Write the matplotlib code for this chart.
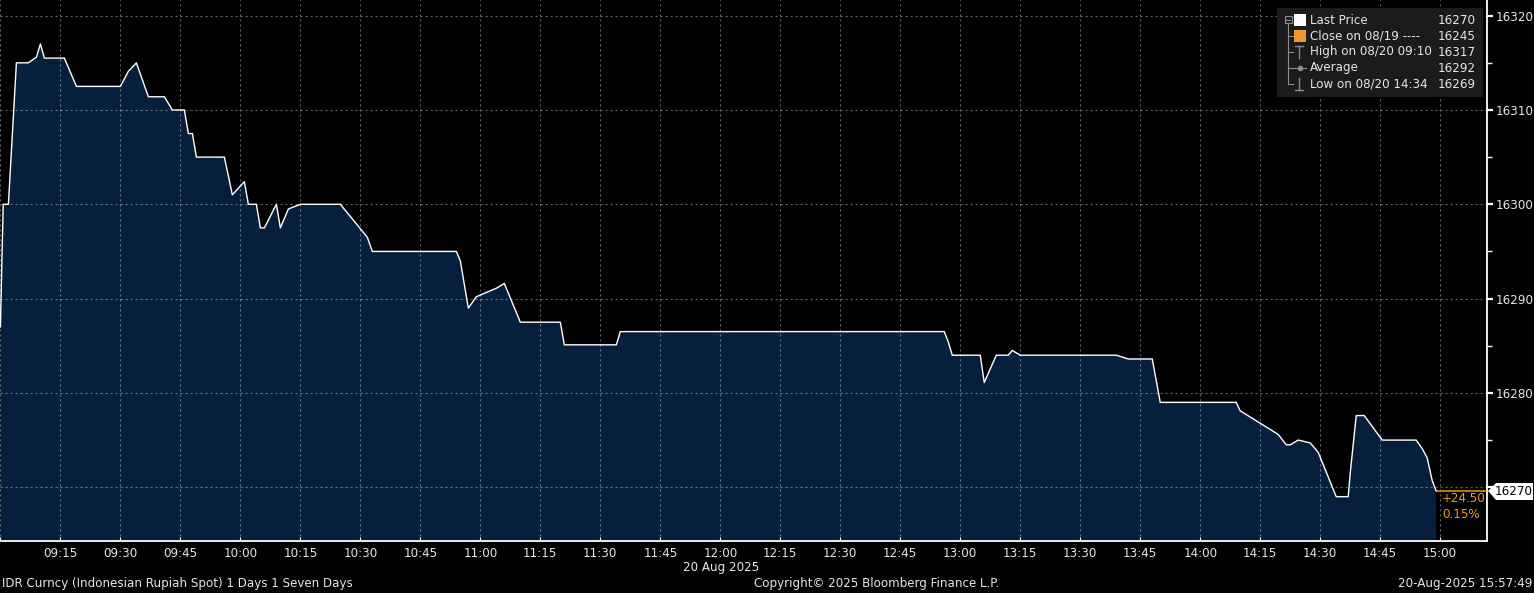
import numpy as np
import matplotlib.pyplot as plt
from matplotlib.patches import Rectangle, Polygon
from matplotlib.lines import Line2D

# =====================================
# Data: IDR spot, 20 Aug 2025 (minutes after 09:00)
# =====================================
minutes = [0, 0.7, 2, 4, 7, 9, 10, 11, 16, 19, 30, 32, 34, 37, 41, 43, 46, 47, 48,
           49, 56, 58, 61, 62, 64, 65, 66, 69, 70, 72, 75, 85, 91.75, 93, 114, 115,
           117, 119, 124, 126, 130, 140, 141, 154, 155, 236, 237, 238, 245, 246, 249,
           252, 253, 255, 279, 282, 288, 290, 309, 310, 319.5, 321.5, 322.5, 324.5,
           327.5, 329.5, 334, 337, 337.5, 339, 341, 345.5, 354, 355.5, 356.75, 358, 359]
prices = [16287, 16300, 16300, 16315, 16315, 16315.6, 16317, 16315.5, 16315.5, 16312.5,
          16312.5, 16314.1, 16315, 16311.4, 16311.4, 16310, 16310, 16307.5, 16307.5,
          16305, 16305, 16301, 16302.4, 16300, 16300, 16297.5, 16297.5, 16300, 16297.5,
          16299.5, 16300, 16300, 16296.5, 16295, 16295, 16294, 16289, 16290.2, 16291.1,
          16291.6, 16287.5, 16287.5, 16285.1, 16285.1, 16286.5, 16286.5, 16285.4, 16284,
          16284, 16281.1, 16284, 16284, 16284.5, 16284, 16284, 16283.6, 16283.6, 16279,
          16279, 16278.1, 16275.6, 16274.5, 16274.5, 16275, 16274.7, 16273.7, 16269,
          16269, 16271.5, 16277.6, 16277.6, 16275, 16275, 16274.1, 16273.1, 16270.7,
          16269.6]

tick_minutes = [0, 15, 30, 45, 60, 75, 90, 105, 120, 135, 150, 165, 180, 195, 210, 225,
                240, 255, 270, 285, 300, 315, 330, 345, 360]
tick_labels = ['', '09:15', '09:30', '09:45', '10:00', '10:15', '10:30', '10:45', '11:00',
               '11:15', '11:30', '11:45', '12:00', '12:15', '12:30', '12:45', '13:00',
               '13:15', '13:30', '13:45', '14:00', '14:15', '14:30', '14:45', '15:00']
y_ticks = [16270, 16280, 16290, 16300, 16310, 16320]
y_labels = ['', '16280', '16290', '16300', '16310', '16320']  # 16270 sits under the tag

legend_labels = ['Last Price', 'Close on 08/19 ----', 'High on 08/20 09:10', 'Average',
                 'Low on 08/20 14:34']
legend_values = ['16270', '16245', '16317', '16292', '16269']

last_price = '16270'
net_change = '+24.50'
pct_change = '0.15%'
date_label = '20 Aug 2025'
footer_left = 'IDR Curncy (Indonesian Rupiah Spot) 1 Days 1 Seven Days'
footer_mid = 'Copyright\u00a9 2025 Bloomberg Finance L.P.'
footer_right = '20-Aug-2025 15:57:49'

# =====================================
# Styling
# =====================================
W, H = 1534, 593
FILL = '#061f3d'
ORANGE = '#f0962a'
TXT = '#e6e6e6'
FS = 8.6
plt.rcParams['font.family'] = 'DejaVu Sans'


def fx(x):
    return x / W


def fy(y):
    return 1 - y / H


fig = plt.figure(figsize=(W / 100, H / 100), dpi=100, facecolor='black')
ax = fig.add_axes([0, fy(541), fx(1487), 541 / H], facecolor='black')

ax.fill_between(minutes, prices, 16200, color=FILL, zorder=1, linewidth=0)
ax.plot(minutes, prices, color='white', linewidth=1.0, zorder=4)
ax.hlines(prices[-1], minutes[-1], 371.7, color=ORANGE, linewidth=1.1, zorder=4)

ax.set_xlim(-0.1, 371.7)
ax.set_ylim(16264.3, 16321.66)

ax.set_xticks(tick_minutes)
ax.set_xticklabels(tick_labels)
ax.set_yticks(y_ticks)
ax.set_yticklabels(y_labels)
ax.set_yticks([16275, 16285, 16295, 16305, 16315], minor=True)
ax.yaxis.tick_right()
ax.tick_params(axis='x', colors='white', labelcolor=TXT, labelsize=FS, length=3,
               direction='in', pad=4)
ax.tick_params(axis='y', which='major', colors='white', labelcolor=TXT, labelsize=FS,
               length=4.5, width=1.6, pad=1.5)
ax.tick_params(axis='y', which='minor', colors='white', length=3.5, width=1)

ax.set_axisbelow(False)
ax.grid(True, color='white', alpha=0.38, linestyle=(0, (2, 2.5)), linewidth=0.8)
for g in ax.get_xgridlines() + ax.get_ygridlines():
    g.set_zorder(2)

for s in ['top', 'left']:
    ax.spines[s].set_visible(False)
for s in ['right', 'bottom']:
    ax.spines[s].set_color('white')
    ax.spines[s].set_linewidth(1.3)

# change labels under last price
fig.text(fx(1442), fy(499), net_change, color=ORANGE, fontsize=FS, va='center')
fig.text(fx(1442), fy(515), pct_change, color=ORANGE, fontsize=FS, va='center')

# last price tag
tag = Polygon([(fx(1488), fy(491)), (fx(1496), fy(483)), (fx(1533), fy(483)),
               (fx(1533), fy(500)), (fx(1496), fy(500))], closed=True,
              transform=fig.transFigure, facecolor='white', edgecolor='none', zorder=5)
fig.patches.append(tag)
fig.text(fx(1514), fy(491.5), last_price, color='black', fontsize=FS, ha='center',
         va='center', zorder=6)

# date under x axis
fig.text(fx(721), fy(567), date_label, color=TXT, fontsize=FS, ha='center', va='center')

# footer
fig.text(fx(2), fy(584), footer_left, color=TXT, fontsize=FS, va='center')
fig.text(fx(877), fy(584), footer_mid, color=TXT, fontsize=FS, ha='center', va='center')
fig.text(fx(1532), fy(584), footer_right, color=TXT, fontsize=FS, ha='right', va='center')

# =====================================
# Legend box
# =====================================
fig.patches.append(Rectangle((fx(1277), fy(97)), fx(206), 89 / H, transform=fig.transFigure,
                             facecolor='#1b1b1b', edgecolor='none', zorder=5))
row_y = [20, 36, 52, 68, 84]
tree = '#8c8c8c'
fig.add_artist(Line2D([fx(1288), fx(1288)], [fy(24), fy(84)], color=tree, lw=0.8, zorder=6))
fig.patches.append(Rectangle((fx(1285), fy(23)), fx(7), 7 / H, transform=fig.transFigure,
                             facecolor='none', edgecolor=tree, lw=0.8, zorder=6))
fig.add_artist(Line2D([fx(1286), fx(1290)], [fy(19.5), fy(19.5)], color=tree, lw=0.8, zorder=7))
for y in row_y[1:]:
    fig.add_artist(Line2D([fx(1288), fx(1293)], [fy(y), fy(y)], color=tree, lw=0.8, zorder=6))
# icons
fig.patches.append(Rectangle((fx(1294), fy(26)), fx(12), 12 / H, transform=fig.transFigure,
                             facecolor='white', edgecolor='none', zorder=6))
fig.patches.append(Rectangle((fx(1294), fy(42)), fx(12), 12 / H, transform=fig.transFigure,
                             facecolor=ORANGE, edgecolor='none', zorder=6))
fig.add_artist(Line2D([fx(1299), fx(1299)], [fy(46), fy(58)], color=tree, lw=1, zorder=6))
fig.add_artist(Line2D([fx(1295), fx(1303)], [fy(46), fy(46)], color=tree, lw=1, zorder=6))
fig.add_artist(Line2D([fx(1293), fx(1306)], [fy(68), fy(68)], color=tree, lw=0.8, zorder=6))
fig.add_artist(Line2D([fx(1299.5)], [fy(68)], color=tree, marker='o', markersize=3,
                      linestyle='none', zorder=6))
fig.add_artist(Line2D([fx(1299), fx(1299)], [fy(78), fy(90)], color=tree, lw=1, zorder=6))
fig.add_artist(Line2D([fx(1295), fx(1303)], [fy(90), fy(90)], color=tree, lw=1, zorder=6))

for y, lab, val in zip(row_y, legend_labels, legend_values):
    fig.text(fx(1310), fy(y), lab, color=TXT, fontsize=FS, va='center', zorder=7)
    fig.text(fx(1476), fy(y), val, color=TXT, fontsize=FS, ha='right', va='center', zorder=7)

fig.savefig('out.png', dpi=100, facecolor='black')
